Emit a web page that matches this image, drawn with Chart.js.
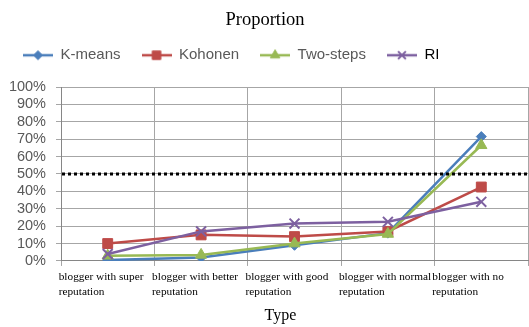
<!DOCTYPE html>
<html><head><meta charset="utf-8">
<script src="https://cdn.jsdelivr.net/npm/chart.js@4/dist/chart.umd.min.js"></script>
<style>html,body{margin:0;padding:0;background:#fff;}#wrap{width:529px;height:327px;}</style>
</head><body><div id="wrap"><canvas id="c" width="529" height="327"></canvas></div>
<script>
// ---- data ----
const categories = [
  ["blogger with super", "reputation"],
  ["blogger with better", "reputation"],
  ["blogger with good", "reputation"],
  ["blogger with normal", "reputation"],
  ["blogger with no", "reputation"]
];
const seriesNames = ["K-means", "Kohonen", "Two-steps", "RI"];
const kmeans   = [0.5, 2, 9, 16, 71.5];
const kohonen  = [10, 15, 14, 17, 42.5];
const twoSteps = [3, 3.5, 10, 15.5, 66.5];
const ri       = [4, 17, 21.5, 22.5, 34];
const yTicks = [0, 10, 20, 30, 40, 50, 60, 70, 80, 90, 100];
const threshold = 50;
const chartTitle = "Proportion";
const xTitle = "Type";

// ---- styles ----
const styles = [
  {color: "#4a7ebb", point: "rectRot", radius: 5, legendRadius: 4.5, bw: 1, legendColor: "#595959"},
  {color: "#be4b48", point: "rect", radius: 7, legendRadius: 6, bw: 1, legendColor: "#595959"},
  {color: "#98b954", point: "triangle", radius: 6.5, legendRadius: 5.5, bw: 1, legendColor: "#595959"},
  {color: "#7d60a0", point: "crossRot", radius: 7, legendRadius: 5.5, bw: 2, legendColor: "#000000"}
];
const values = [kmeans, kohonen, twoSteps, ri];

function makeIcon(s) {
  const c = document.createElement("canvas");
  c.width = 30; c.height = 16;
  const x = c.getContext("2d");
  x.strokeStyle = s.color; x.lineWidth = 2.5;
  x.beginPath(); x.moveTo(0, 8); x.lineTo(30, 8); x.stroke();
  x.fillStyle = s.color; x.lineWidth = s.bw;
  Chart.helpers.drawPoint(x, {pointStyle: s.point, radius: s.legendRadius, rotation: 0, borderWidth: s.bw}, 15, 8);
  return c;
}
const icons = styles.map(makeIcon);

const thresholdPlugin = {
  id: "thresholdLine",
  afterDatasetsDraw(chart) {
    const {ctx, chartArea, scales} = chart;
    const y = scales.y.getPixelForValue(threshold);
    ctx.save();
    ctx.strokeStyle = "#000";
    ctx.lineWidth = 3;
    ctx.setLineDash([3, 3]);
    ctx.beginPath();
    ctx.moveTo(chartArea.left + 1, y);
    ctx.lineTo(chartArea.right, y);
    ctx.stroke();
    ctx.restore();
  }
};

const datasets = seriesNames.map((name, i) => ({
  label: name,
  data: values[i],
  xAxisID: "x",
  yAxisID: "y",
  borderColor: styles[i].color,
  backgroundColor: styles[i].color,
  borderWidth: 2.5,
  pointStyle: styles[i].point,
  pointRadius: styles[i].radius,
  pointHoverRadius: styles[i].radius,
  pointBackgroundColor: styles[i].color,
  pointBorderColor: styles[i].color,
  pointBorderWidth: styles[i].bw,
  tension: 0,
  order: seriesNames.length - i
}));

new Chart(document.getElementById("c"), {
  type: "line",
  data: {labels: categories, datasets},
  options: {
    responsive: false,
    animation: false,
    events: [],
    layout: {autoPadding: false, padding: {left: 2, right: 1, top: 0, bottom: 0}},
    plugins: {
      title: {
        display: true, text: chartTitle, color: "#000",
        font: {family: "Liberation Serif", size: 18.5, weight: "normal", lineHeight: 1.2},
        padding: {top: 9, bottom: -4.5}
      },
      legend: {
        display: true, position: "top", align: "start",
        labels: {
          usePointStyle: true, pointStyleWidth: 30, padding: 21,
          color: "#595959",
          font: {family: "Liberation Sans", size: 15},
          generateLabels(chart) {
            const items = Chart.defaults.plugins.legend.labels.generateLabels(chart);
            items.sort((a, b) => a.datasetIndex - b.datasetIndex);
            items.forEach(it => {
              it.pointStyle = icons[it.datasetIndex];
              it.fontColor = styles[it.datasetIndex].legendColor;
            });
            return items;
          }
        }
      },
      tooltip: {enabled: false}
    },
    scales: {
      x: {
        type: "category", offset: true, position: "bottom",
        grid: {offset: true, color: "#a6a6a6", tickLength: 5, lineWidth: 1},
        border: {color: "#868686", width: 1},
        ticks: {
          autoSkip: false, maxRotation: 0, minRotation: 0, align: "start",
          labelOffset: -49, padding: 4, color: "#000",
          font: {family: "Liberation Serif", size: 11.3, lineHeight: 1.32}
        },
        title: {
          display: true, text: xTitle + "\u00a0\u00a0\u00a0\u00a0\u00a0\u00a0\u00a0", color: "#000",
          font: {family: "Liberation Serif", size: 16, lineHeight: 1.2},
          padding: {top: 2, bottom: 2}
        },
        afterFit(s) { s.paddingLeft = 0; s.paddingRight = 0; }
      },
      xTop: {
        type: "category", position: "top", display: true, offset: true,
        grid: {display: false, drawTicks: false}, border: {display: false},
        ticks: {display: false},
        afterFit(s) { s.height = 14.3; }
      },
      y: {
        min: 0, max: 100,
        afterBuildTicks(s) { s.ticks = yTicks.map(v => ({value: v})); },
        ticks: {
          autoSkip: false,
          callback: v => v + "%", color: "#595959", padding: 10,
          font: {family: "Liberation Sans", size: 14.5}
        },
        grid: {color: "#a6a6a6", tickLength: 5, lineWidth: 1},
        border: {color: "#868686", width: 1},
        afterFit(s) { s.width = 59; }
      }
    }
  },
  plugins: [thresholdPlugin]
});
</script>
</body></html>
